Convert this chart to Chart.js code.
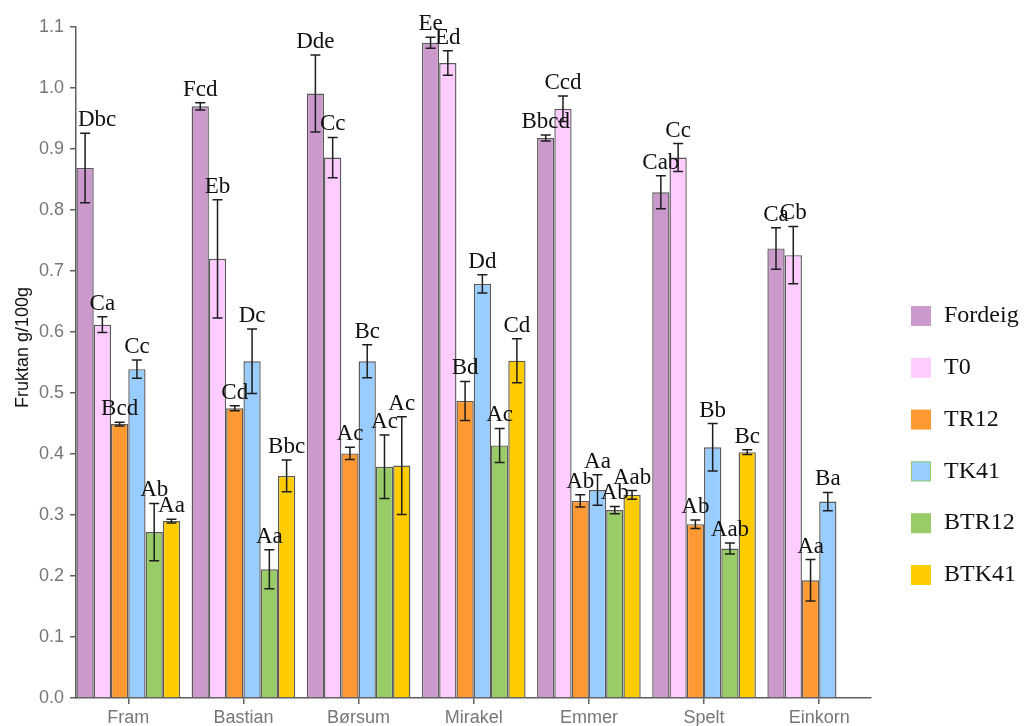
<!DOCTYPE html>
<html>
<head>
<meta charset="utf-8">
<title>Fruktan</title>
<script src="https://cdn.jsdelivr.net/npm/chart.js@4.4.1/dist/chart.umd.min.js"></script>
<style>
  html, body { margin: 0; padding: 0; background: #ffffff; }
  #wrap { width: 1035px; height: 726px; }
</style>
</head>
<body>
<div id="wrap"><canvas id="c" width="1035" height="726"></canvas></div>
<script>
// Varieties on the x axis
const categories = ['Fram', 'Bastian', 'Børsum', 'Mirakel', 'Emmer', 'Spelt', 'Einkorn'];
const seriesNames = ['Fordeig', 'T0', 'TR12', 'TK41', 'BTR12', 'BTK41'];

// Fructan, g/100g (mean, error, significance letters)
const fordeig        = [0.869, 0.970, 0.991, 1.074, 0.918, 0.829, 0.737];
const fordeigErr     = [0.057, 0.006, 0.063, 0.009, 0.005, 0.027, 0.034];
const fordeigLetters = ['Dbc', 'Fcd', 'Dde', 'Ee', 'Bbcd', 'Cab', 'Ca'];

const t0        = [0.612, 0.720, 0.886, 1.041, 0.966, 0.886, 0.726];
const t0Err     = [0.013, 0.097, 0.033, 0.020, 0.021, 0.023, 0.047];
const t0Letters = ['Ca', 'Eb', 'Cc', 'Ed', 'Ccd', 'Cc', 'Cb'];

const tr12        = [0.449, 0.475, 0.401, 0.487, 0.323, 0.285, 0.193];
const tr12Err     = [0.003, 0.004, 0.010, 0.032, 0.010, 0.007, 0.034];
const tr12Letters = ['Bcd', 'Cd', 'Ac', 'Bd', 'Ab', 'Ab', 'Aa'];

const tk41        = [0.539, 0.552, 0.552, 0.679, 0.341, 0.411, 0.322];
const tk41Err     = [0.015, 0.053, 0.027, 0.015, 0.025, 0.039, 0.015];
const tk41Letters = ['Cc', 'Dc', 'Bc', 'Dd', 'Aa', 'Bb', 'Ba'];

const btr12        = [0.272, 0.211, 0.379, 0.414, 0.308, 0.245, null];
const btr12Err     = [0.047, 0.032, 0.052, 0.028, 0.006, 0.009, null];
const btr12Letters = ['Ab', 'Aa', 'Ac', 'Ac', 'Ab', 'Aab', ''];

const btk41        = [0.290, 0.364, 0.381, 0.553, 0.333, 0.403, null];
const btk41Err     = [0.003, 0.026, 0.080, 0.036, 0.007, 0.004, null];
const btk41Letters = ['Aa', 'Bbc', 'Ac', 'Cd', 'Aab', 'Bc', ''];

// Y axis ticks and title
const yTicks = [0, 0.1, 0.2, 0.3, 0.4, 0.5, 0.6, 0.7, 0.8, 0.9, 1.0, 1.1];
const yTitle = 'Fruktan g/100g';

const seriesValues  = [fordeig, t0, tr12, tk41, btr12, btk41];
const seriesErrors  = [fordeigErr, t0Err, tr12Err, tk41Err, btr12Err, btk41Err];
const seriesLetters = [fordeigLetters, t0Letters, tr12Letters, tk41Letters, btr12Letters, btk41Letters];
const fillColors    = ['#cc99cc', '#ffccff', '#ff9933', '#99ccff', '#99cc66', '#ffcc00'];
const legendEdges   = [null, null, null, '#99cc66', null, null];

const datasets = seriesNames.map((name, s) => ({
  label: name,
  data: categories.map((c, i) => ({ x: i, y: seriesValues[s][i] })),
  backgroundColor: fillColors[s],
  borderColor: '#5a5a5a',
  borderWidth: 1.4,
  categoryPercentage: 0.9,
  barPercentage: 1.0
}));

// white page behind the chart
const whiteBg = {
  id: 'whiteBg',
  beforeDraw(chart) {
    const { ctx } = chart;
    ctx.save();
    ctx.fillStyle = '#ffffff';
    ctx.fillRect(0, 0, chart.width, chart.height);
    ctx.restore();
  }
};

// rotated y-axis title, set a little above the axis middle
const axisTitle = {
  id: 'axisTitle',
  afterDraw(chart) {
    const { ctx, chartArea } = chart;
    ctx.save();
    ctx.translate(23, (chartArea.top + chartArea.bottom) / 2 - 15);
    ctx.rotate(-Math.PI / 2);
    ctx.font = '18px "Liberation Sans", Arial, sans-serif';
    ctx.fillStyle = '#111111';
    ctx.textAlign = 'center';
    ctx.textBaseline = 'middle';
    ctx.fillText(yTitle, 0, 0);
    ctx.restore();
  }
};

// error bars and significance letters on top of each bar
const errorBars = {
  id: 'errorBars',
  afterDatasetsDraw(chart) {
    const { ctx, chartArea } = chart;
    const yScale = chart.scales.y;
    ctx.save();
    chart.data.datasets.forEach((ds, s) => {
      const meta = chart.getDatasetMeta(s);
      meta.data.forEach((bar, i) => {
        const v = seriesValues[s][i];
        const e = seriesErrors[s][i];
        if (v === null || e === null) return;
        const x = bar.x;
        const yTop = yScale.getPixelForValue(v + e);
        const yBot = yScale.getPixelForValue(v - e);
        ctx.strokeStyle = '#1e1e1e';
        ctx.lineWidth = 1.5;
        ctx.beginPath();
        ctx.moveTo(x, yTop); ctx.lineTo(x, yBot);
        ctx.moveTo(x - 5, yTop); ctx.lineTo(x + 5, yTop);
        ctx.moveTo(x - 5, yBot); ctx.lineTo(x + 5, yBot);
        ctx.stroke();

        const txt = seriesLetters[s][i];
        if (!txt) return;
        ctx.font = '23px "Liberation Serif", "Times New Roman", serif';
        ctx.fillStyle = '#111111';
        ctx.textBaseline = 'alphabetic';
        const w = ctx.measureText(txt).width;
        let left = x - w / 2;
        if (left < chartArea.left + 2) left = chartArea.left + 2;
        ctx.textAlign = 'left';
        ctx.fillText(txt, left, yTop - 7);
      });
    });
    ctx.restore();
  }
};

// legend column on the right
const sideLegend = {
  id: 'sideLegend',
  afterDraw(chart) {
    const { ctx } = chart;
    ctx.save();
    chart.data.datasets.forEach((ds, s) => {
      const cy = 316 + s * 51.8;
      ctx.fillStyle = ds.backgroundColor;
      ctx.fillRect(911, cy - 10, 20, 20);
      if (legendEdges[s]) {
        ctx.strokeStyle = legendEdges[s];
        ctx.lineWidth = 1;
        ctx.strokeRect(911.5, cy - 9.5, 19, 19);
      }
      ctx.fillStyle = '#111111';
      ctx.font = '24px "Liberation Serif", "Times New Roman", serif';
      ctx.textAlign = 'left';
      ctx.textBaseline = 'middle';
      ctx.fillText(ds.label, 944, cy);
    });
    ctx.restore();
  }
};

new Chart(document.getElementById('c'), {
  type: 'bar',
  data: { datasets },
  options: {
    responsive: false,
    animation: false,
    devicePixelRatio: 1,
    layout: { padding: { top: 27, right: 164, bottom: 0, left: 0 } },
    plugins: {
      legend: { display: false },
      tooltip: { enabled: false }
    },
    scales: {
      x: {
        type: 'linear',
        offset: false,
        min: -0.454,
        max: 6.45,
        afterBuildTicks(scale) {
          scale.ticks = categories.map((c, i) => ({ value: i }));
        },
        afterFit(scale) { scale.height = 28; },
        ticks: {
          autoSkip: false,
          maxRotation: 0,
          padding: 3,
          color: '#777777',
          font: { family: '"Liberation Sans", Arial, sans-serif', size: 18 },
          callback: (v) => categories[v] ?? ''
        },
        grid: {
          display: true,
          offset: false,
          drawOnChartArea: false,
          drawTicks: true,
          tickLength: 6,
          color: '#5f5f5f',
          lineWidth: 1.5
        },
        border: { display: true, color: '#5f5f5f', width: 1.5 }
      },
      y: {
        min: 0,
        max: 1.1,
        afterBuildTicks(scale) {
          scale.ticks = yTicks.map(v => ({ value: v }));
        },
        afterFit(scale) { scale.width = 76; },
        ticks: {
          padding: 6,
          color: '#777777',
          font: { family: '"Liberation Sans", Arial, sans-serif', size: 18 },
          callback: (v) => Number(v).toFixed(1)
        },
        grid: {
          display: true,
          drawOnChartArea: false,
          drawTicks: true,
          tickLength: 6,
          color: '#5f5f5f',
          lineWidth: 1.5
        },
        border: { display: true, color: '#5f5f5f', width: 1.5 }
      }
    }
  },
  plugins: [whiteBg, errorBars, sideLegend, axisTitle]
});
</script>
</body>
</html>
